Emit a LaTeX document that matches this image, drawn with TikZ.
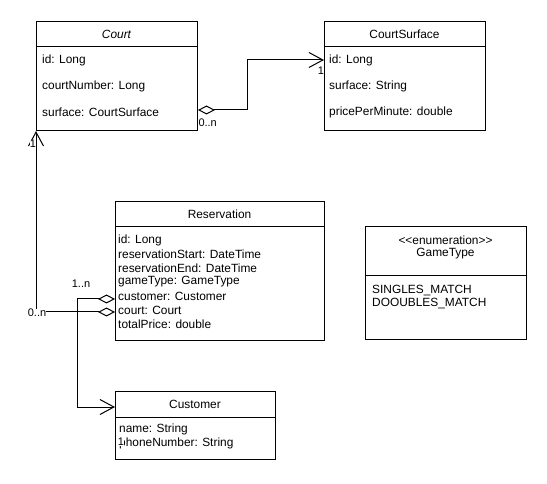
\documentclass[tikz,border=0pt]{standalone}
\usepackage{fontspec}
\setmainfont{Liberation Sans}
\usetikzlibrary{arrows.meta}
\begin{document}
\begin{tikzpicture}[x=1pt,y=-1pt,
  box/.style={draw, line width=1pt, fill=white, anchor=north west, inner sep=0},
  txt/.style={font=\fontsize{11.9}{13}\selectfont, inner sep=0, text=black},
  attr/.style={txt, anchor=west},
  hdr/.style={txt, anchor=center},
  sep/.style={line width=1pt},
  conn/.style={line width=1pt},
  agg/.style={conn, {Diamond[open, length=17pt, width=9pt, line width=1pt]}-{Straight Barb[length=14pt, width=15pt, line width=1pt]}},
  lbl/.style={font=\fontsize{11}{12}\selectfont, fill=white, inner sep=0.3pt}
]
\useasboundingbox[fill=white] (0,0) rectangle (547,484);

% Court
\node[box, minimum width=161pt, minimum height=109pt] (court) at (36,21) {};
\draw[sep] (court.west |- 0,47) -- (court.east |- 0,47);
\node[hdr, font=\fontsize{11.9}{13}\selectfont\itshape] (courtT) at (116.5,34) {Court};
\node[attr] (c1) at (42,60) {id: Long};
\node[attr] (c2) at (42,86) {courtNumber: Long};
\node[attr] (c3) at (42,112) {surface: CourtSurface};

% CourtSurface
\node[box, minimum width=161pt, minimum height=109pt] (surf) at (324,21) {};
\draw[sep] (surf.west |- 0,47) -- (surf.east |- 0,47);
\node[hdr] (surfT) at (404.5,34) {CourtSurface};
\node[attr] (s1) at (329,60) {id: Long};
\node[attr] (s2) at (329,86) {surface: String};
\node[attr] (s3) at (329,112) {pricePerMinute: double};

% Reservation
\node[box, minimum width=209pt, minimum height=139pt] (res) at (115,201) {};
\draw[sep] (res.west |- 0,227) -- (res.east |- 0,227);
\node[hdr] (resT) at (219.5,214) {Reservation};
\node[attr] (r1) at (118,240) {id: Long};
\node[attr] (r2) at (118,254) {reservationStart: DateTime};
\node[attr] (r3) at (118,268) {reservationEnd: DateTime};
\node[attr] (r4) at (118,282) {gameType: GameType};
\node[attr] (r5) at (118,296) {customer: Customer};
\node[attr] (r6) at (118,310) {court: Court};
\node[attr] (r7) at (118,324) {totalPrice: double};

% GameType
\node[box, minimum width=161pt, minimum height=113pt] (gt) at (365,226) {};
\draw[sep] (gt.west |- 0,276) -- (gt.east |- 0,276);
\node[hdr] (gtS) at (445.5,240) {\textless\kern0pt\textless\kern0pt enumeration\textgreater\kern0pt\textgreater};
\node[hdr] (gtT) at (445.5,254) {GameType};
\node[attr] (g1) at (372,291) {SINGLES\_MATCH};
\node[attr] (g2) at (372,304) {DOOUBLES\_MATCH};

% Customer
\node[box, minimum width=160pt, minimum height=68pt] (cust) at (115,391) {};
\draw[sep] (cust.west |- 0,417) -- (cust.east |- 0,417);
\node[hdr] (custT) at (195,404) {Customer};
\node[attr] (cu1) at (119,429) {name: String};
\node[attr] (cu2) at (119,443) {phoneNumber: String};

% Connectors
\coordinate (bendA) at (247,110);
\draw[agg] (court.east |- 0,110) -- (bendA) |- (surf.west |- 0,60);
\node[lbl, anchor=west] (l1) at (198,123) {0..n};
\node[lbl] (l2) at (321,71) {1};

\draw[agg] (res.west |- 0,312) -| (court.south west);
\node[lbl] (l3) at (33,144) {1};
\node[lbl] (l4) at (37,313) {0..n};

\coordinate (bendB) at (77,299);
\draw[agg] (res.west |- 0,299) -- (bendB) |- (cust.west |- 0,407);
\node[lbl] (l5) at (81,284) {1..n};
\node[lbl, inner sep=0pt] (l6) at (121,442) {1};
\end{tikzpicture}
\end{document}
